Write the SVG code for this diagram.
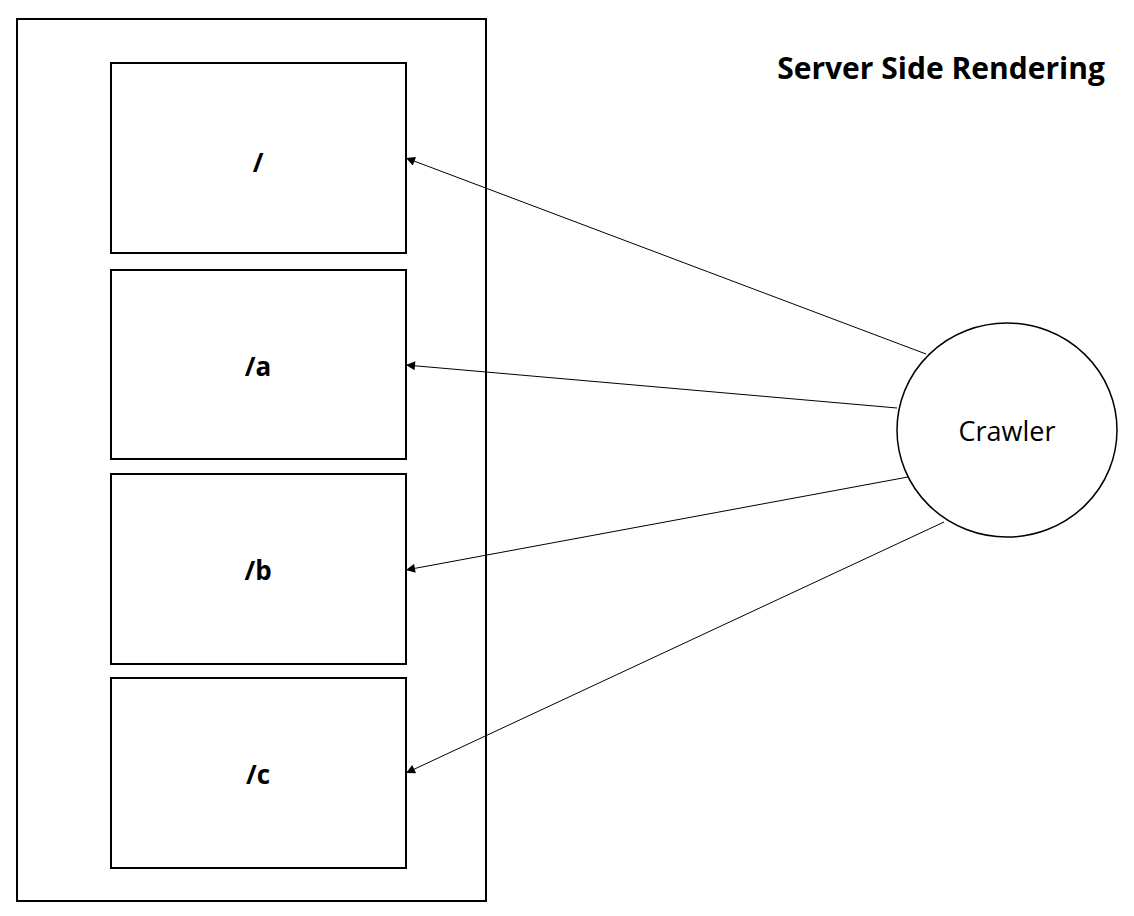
<svg xmlns="http://www.w3.org/2000/svg" width="1134" height="916" viewBox="0 0 1134 916">
<style>
.box{fill:#fff;stroke:#000;stroke-width:2}
.lbl{font-family:"Open Sans","Liberation Sans",sans-serif;font-weight:bold;font-size:26px;text-anchor:middle}
.conn{stroke:#000;stroke-width:1;fill:none;marker-end:url(#ah)}
</style>
<defs>
<marker id="ah" viewBox="0 0 10 10" refX="10" refY="5" markerWidth="11" markerHeight="9" markerUnits="userSpaceOnUse" orient="auto">
<path d="M0,0 L10,5 L0,10 z" fill="#000"/>
</marker>
</defs>
<rect width="1134" height="916" fill="#fff"/>
<g id="container"><rect class="box" x="17" y="19" width="469" height="882"/></g>
<g id="node-root"><rect class="box" x="111" y="63" width="295" height="190"/><text class="lbl" x="258" y="172">/</text></g>
<g id="node-a"><rect class="box" x="111" y="270" width="295" height="189"/><text class="lbl" x="258" y="376">/a</text></g>
<g id="node-b"><rect class="box" x="111" y="474" width="295" height="190"/><text class="lbl" x="258" y="580">/b</text></g>
<g id="node-c"><rect class="box" x="111" y="678" width="295" height="190"/><text class="lbl" x="258" y="784">/c</text></g>
<g id="crawler"><ellipse cx="1007" cy="430" rx="110" ry="107" fill="#fff" stroke="#000" stroke-width="1.5"/><text x="1007" y="441" font-family="Open Sans, Liberation Sans, sans-serif" font-size="27" text-anchor="middle">Crawler</text></g>
<g id="title"><text x="941" y="79" font-family="Open Sans, Liberation Sans, sans-serif" font-weight="bold" font-size="30" text-anchor="middle">Server Side Rendering</text></g>
<g id="connectors">
<line class="conn" x1="926" y1="354" x2="406" y2="158"/>
<line class="conn" x1="897" y1="408" x2="406" y2="365"/>
<line class="conn" x1="908" y1="477" x2="406" y2="570"/>
<line class="conn" x1="944" y1="522" x2="406" y2="773"/>
</g>
</svg>
